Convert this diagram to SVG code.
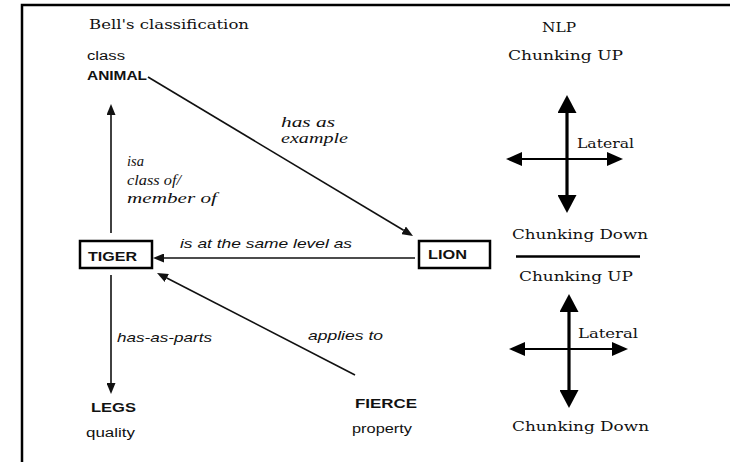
<svg xmlns="http://www.w3.org/2000/svg" width="730" height="462" viewBox="0 0 730 462">
  <style>
    .serif { font-family: "DejaVu Serif", "Liberation Serif", serif; font-size: 13px; fill: #111; }
    .iserif { font-family: "Liberation Serif", "DejaVu Serif", serif; font-size: 14.5px; font-style: italic; fill: #111; }
    .sans { font-family: "Liberation Sans", Arial, sans-serif; font-size: 12.5px; fill: #111; }
    .isans { font-family: "Liberation Sans", Arial, sans-serif; font-size: 13px; font-style: italic; fill: #111; }
    .bold { font-family: "Liberation Sans", Arial, sans-serif; font-size: 13px; font-weight: bold; fill: #111; }
    .frame { fill: none; stroke: #000; stroke-width: 2.5; }
    .box { fill: #fff; stroke: #000; stroke-width: 2.5; }
    .link { fill: none; stroke: #111; stroke-width: 1.6; }
    .axis-v { fill: none; stroke: #000; stroke-width: 3.2; }
    .axis-h { fill: none; stroke: #000; stroke-width: 2; }
    .rule { stroke: #000; stroke-width: 2.5; }
  </style>
  <defs>
    <marker id="head-small" markerUnits="userSpaceOnUse" markerWidth="11" markerHeight="9" refX="0" refY="4.5" orient="auto" viewBox="0 0 11 9">
      <path d="M0,0 L11,4.5 L0,9 z" fill="#111"/>
    </marker>
    <marker id="head-v" markerUnits="userSpaceOnUse" markerWidth="18" markerHeight="19" refX="0" refY="9.5" orient="auto-start-reverse" viewBox="0 0 18 19">
      <path d="M0,0 L18,9.5 L0,19 z" fill="#000"/>
    </marker>
    <marker id="head-h" markerUnits="userSpaceOnUse" markerWidth="16" markerHeight="14" refX="0" refY="7" orient="auto-start-reverse" viewBox="0 0 16 14">
      <path d="M0,0 L16,7 L0,14 z" fill="#000"/>
    </marker>
  </defs>

  <rect width="730" height="462" fill="#fff"/>

  <!-- page frame: top and left edges -->
  <path class="frame" d="M22,462 L22,5 L730,5"/>

  <!-- left panel heading -->
  <text class="serif" x="89" y="29" textLength="160" lengthAdjust="spacingAndGlyphs">Bell's classification</text>

  <!-- connectors -->
  <g id="connectors">
    <line class="link" x1="111" y1="233" x2="111" y2="115" marker-end="url(#head-small)"/>
    <line class="link" x1="111" y1="275" x2="111" y2="383" marker-end="url(#head-small)"/>
    <line class="link" x1="148" y1="77" x2="403.6" y2="230.3" marker-end="url(#head-small)"/>
    <line class="link" x1="415" y1="258" x2="164" y2="258" marker-end="url(#head-small)"/>
    <line class="link" x1="355" y1="375" x2="166.8" y2="278" marker-end="url(#head-small)"/>
  </g>

  <!-- connector labels -->
  <g id="labels">
    <text class="iserif" x="281" y="127" textLength="54" lengthAdjust="spacingAndGlyphs">has as</text>
    <text class="iserif" x="281" y="143" textLength="67" lengthAdjust="spacingAndGlyphs">example</text>
    <text class="iserif" x="127" y="166">isa</text>
    <text class="iserif" x="127" y="185" textLength="54" lengthAdjust="spacingAndGlyphs">class of/</text>
    <text class="iserif" x="127" y="203" textLength="90" lengthAdjust="spacingAndGlyphs">member of</text>
    <text class="isans" x="180" y="248" textLength="172" lengthAdjust="spacingAndGlyphs">is at the same level as</text>
    <text class="isans" x="117" y="342" textLength="95" lengthAdjust="spacingAndGlyphs">has-as-parts</text>
    <text class="isans" x="308" y="340" textLength="75" lengthAdjust="spacingAndGlyphs">applies to</text>
  </g>

  <g id="animal">
    <text class="sans" x="87" y="60" textLength="38" lengthAdjust="spacingAndGlyphs">class</text>
    <text class="bold" x="87" y="80" textLength="60" lengthAdjust="spacingAndGlyphs">ANIMAL</text>
  </g>

  <g id="tiger">
    <rect class="box" x="80" y="241" width="72" height="27"/>
    <text class="bold" x="88" y="260.5" font-size="14" textLength="49" lengthAdjust="spacingAndGlyphs">TIGER</text>
  </g>

  <g id="lion">
    <rect class="box" x="419" y="241" width="71" height="27"/>
    <text class="bold" x="428" y="258.5" font-size="14" textLength="39" lengthAdjust="spacingAndGlyphs">LION</text>
  </g>

  <g id="legs">
    <text class="bold" x="91" y="411.5" textLength="45" lengthAdjust="spacingAndGlyphs">LEGS</text>
    <text class="sans" x="86" y="437" textLength="49" lengthAdjust="spacingAndGlyphs">quality</text>
  </g>

  <g id="fierce">
    <text class="bold" x="355" y="407.5" textLength="62" lengthAdjust="spacingAndGlyphs">FIERCE</text>
    <text class="sans" x="352" y="433" textLength="60" lengthAdjust="spacingAndGlyphs">property</text>
  </g>

  <!-- right panel: NLP chunking -->
  <g id="nlp">
    <text class="serif" x="542" y="31.5" textLength="34" lengthAdjust="spacingAndGlyphs">NLP</text>
    <text class="serif" x="508" y="60" textLength="115" lengthAdjust="spacingAndGlyphs">Chunking UP</text>
    <line class="axis-v" x1="567" y1="113" x2="567" y2="195" marker-start="url(#head-v)" marker-end="url(#head-v)"/>
    <line class="axis-h" x1="522" y1="159" x2="607" y2="159" marker-start="url(#head-h)" marker-end="url(#head-h)"/>
    <text class="serif" x="577" y="148" textLength="57" lengthAdjust="spacingAndGlyphs">Lateral</text>
    <text class="serif" x="512" y="239" textLength="136" lengthAdjust="spacingAndGlyphs">Chunking Down</text>
    <line class="rule" x1="516" y1="256.5" x2="640" y2="256.5"/>
    <text class="serif" x="519" y="280.5" textLength="114" lengthAdjust="spacingAndGlyphs">Chunking UP</text>
    <line class="axis-v" x1="569" y1="312" x2="569" y2="390" marker-start="url(#head-v)" marker-end="url(#head-v)"/>
    <line class="axis-h" x1="525" y1="349" x2="612" y2="349" marker-start="url(#head-h)" marker-end="url(#head-h)"/>
    <text class="serif" x="578" y="338" textLength="60" lengthAdjust="spacingAndGlyphs">Lateral</text>
    <text class="serif" x="512" y="430.5" textLength="137" lengthAdjust="spacingAndGlyphs">Chunking Down</text>
  </g>
</svg>
